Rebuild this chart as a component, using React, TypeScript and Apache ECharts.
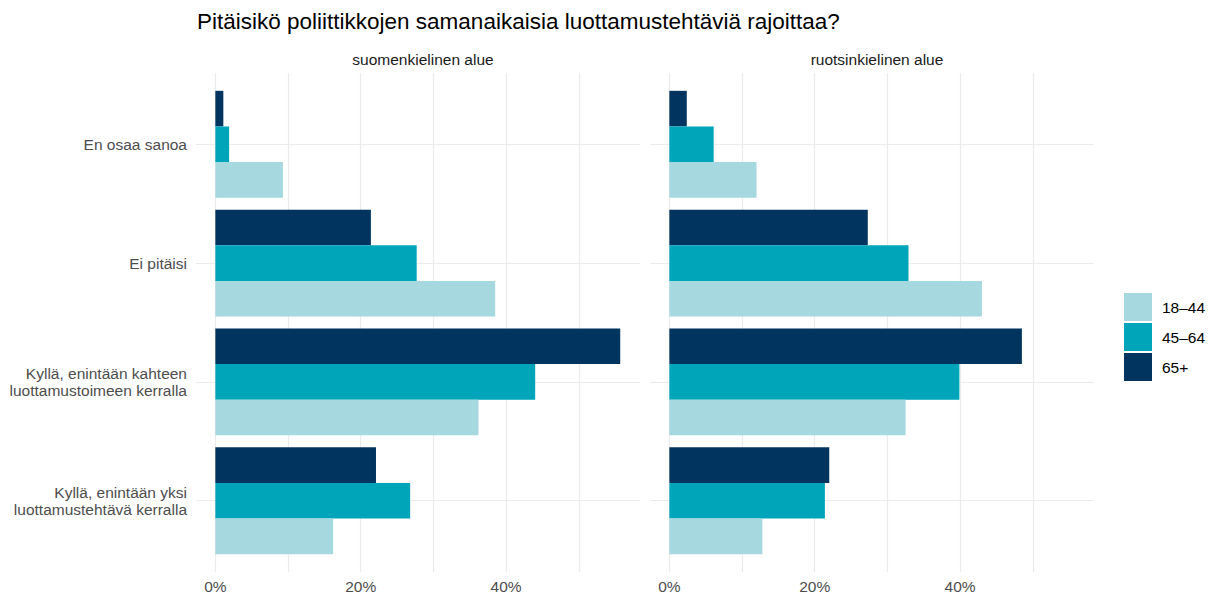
import React, { useEffect, useRef } from "react";
import * as echarts from "echarts";

const categories = [
  "En osaa sanoa",
  "Ei pitäisi",
  "Kyllä, enintään kahteen\nluottamustoimeen kerralla",
  "Kyllä, enintään yksi\nluottamustehtävä kerralla",
];
const panels = ["suomenkielinen alue", "ruotsinkielinen alue"];
const ageGroups = ["18–44", "45–64", "65+"];
const fi_18_44 = [9.3, 38.5, 36.2, 16.2];
const fi_45_64 = [1.9, 27.7, 44.0, 26.8];
const fi_65 = [1.1, 21.4, 55.7, 22.1];
const sv_18_44 = [12.0, 43.0, 32.5, 12.8];
const sv_45_64 = [6.1, 32.9, 39.9, 21.4];
const sv_65 = [2.4, 27.3, 48.5, 22.0];
const xTickLabels = [0, 20, 40];
const xGridValues = [0, 10, 20, 30, 40, 50];
const yPositions = [1, 2, 3, 4];

const colors = ["#a6d8df", "#00a5b9", "#01355f"];
const FONT = "'Liberation Sans', Arial, sans-serif";
const XMIN = -2.66;
const XMAX = 58.42;
const GRID = "#ebebeb";
const TXT = 15.5;

export default function App() {
  const ref = useRef<HTMLDivElement>(null);
  useEffect(() => {
    document.body.style.margin = "0";
    const chart = echarts.init(ref.current!, null, { renderer: "svg" });
    const panelLefts = [196, 650];
    const panelW = 444;
    const bgTop = 73;
    const bgH = 499;
    const band = bgH / 4.2;
    const barTop = bgTop + 0.1 * band;
    const barH = band * 4;

    const grids: any[] = [];
    const xAxes: any[] = [];
    const yAxes: any[] = [];
    panelLefts.forEach((left, p) => {
      grids.push({ left, top: bgTop, width: panelW, height: bgH });
      grids.push({ left, top: barTop, width: panelW, height: barH });
      xAxes.push({
        type: "value",
        gridIndex: p * 2,
        min: XMIN,
        max: XMAX,
        axisLine: { show: false, onZero: false },
        axisTick: { show: false, customValues: xGridValues },
        axisLabel: {
          customValues: xTickLabels,
          formatter: "{value}%",
          color: "#4d4d4d",
          fontSize: TXT,
          fontFamily: FONT,
          margin: 6,
        },
        splitLine: { show: true, lineStyle: { color: GRID, width: 1.2 } },
      });
      xAxes.push({
        type: "value",
        gridIndex: p * 2 + 1,
        min: XMIN,
        max: XMAX,
        show: false,
      });
      yAxes.push({
        type: "value",
        gridIndex: p * 2,
        min: 0.4,
        max: 4.6,
        inverse: true,
        axisLine: { show: false, onZero: false },
        axisTick: { show: false, customValues: yPositions },
        axisLabel: {
          show: p === 0,
          customValues: yPositions,
          formatter: (v: number) => categories[Math.round(v) - 1] ?? "",
          color: "#4d4d4d",
          fontSize: TXT,
          lineHeight: 17,
          fontFamily: FONT,
          margin: 9,
          align: "right",
        },
        splitLine: { show: true, lineStyle: { color: GRID, width: 1.2 } },
      });
      yAxes.push({
        type: "category",
        gridIndex: p * 2 + 1,
        data: categories,
        inverse: true,
        show: false,
      });
    });

    const panelData = [
      [fi_65, fi_45_64, fi_18_44],
      [sv_65, sv_45_64, sv_18_44],
    ];
    const seriesNames = [ageGroups[2], ageGroups[1], ageGroups[0]];
    const seriesColors = [colors[2], colors[1], colors[0]];
    const series: any[] = [];
    panelData.forEach((sets, p) => {
      sets.forEach((vals, i) => {
        series.push({
          type: "bar",
          name: seriesNames[i],
          xAxisIndex: p * 2 + 1,
          yAxisIndex: p * 2 + 1,
          data: vals,
          barGap: "0%",
          barCategoryGap: "10%",
          itemStyle: { color: seriesColors[i] },
          emphasis: { disabled: true },
        });
      });
    });

    chart.setOption({
      animation: false,
      color: [colors[2], colors[1], colors[0]],
      title: [
        {
          text: "Pitäisikö poliittikkojen samanaikaisia luottamustehtäviä rajoittaa?",
          left: 192,
          top: 5,
          textStyle: { fontSize: 22.5, fontWeight: "normal", color: "#000", fontFamily: FONT },
        },
        ...panels.map((t, p) => ({
          text: t,
          left: panelLefts[p] + panelW / 2,
          top: 46,
          textAlign: "center",
          textStyle: { fontSize: TXT, fontWeight: "normal", color: "#1a1a1a", fontFamily: FONT },
        })),
      ],
      legend: {
        data: ageGroups,
        orient: "vertical",
        left: 1119,
        top: 288,
        itemWidth: 28,
        itemHeight: 28,
        itemGap: 2,
        icon: "rect",
        selectedMode: false,
        textStyle: { fontSize: TXT, color: "#000", fontFamily: FONT, padding: [0, 0, 0, 5] },
      },
      grid: grids,
      xAxis: xAxes,
      yAxis: yAxes,
      series,
    });
    return () => chart.dispose();
  }, []);
  return <div ref={ref} style={{ width: 1217, height: 597 }} />;
}
